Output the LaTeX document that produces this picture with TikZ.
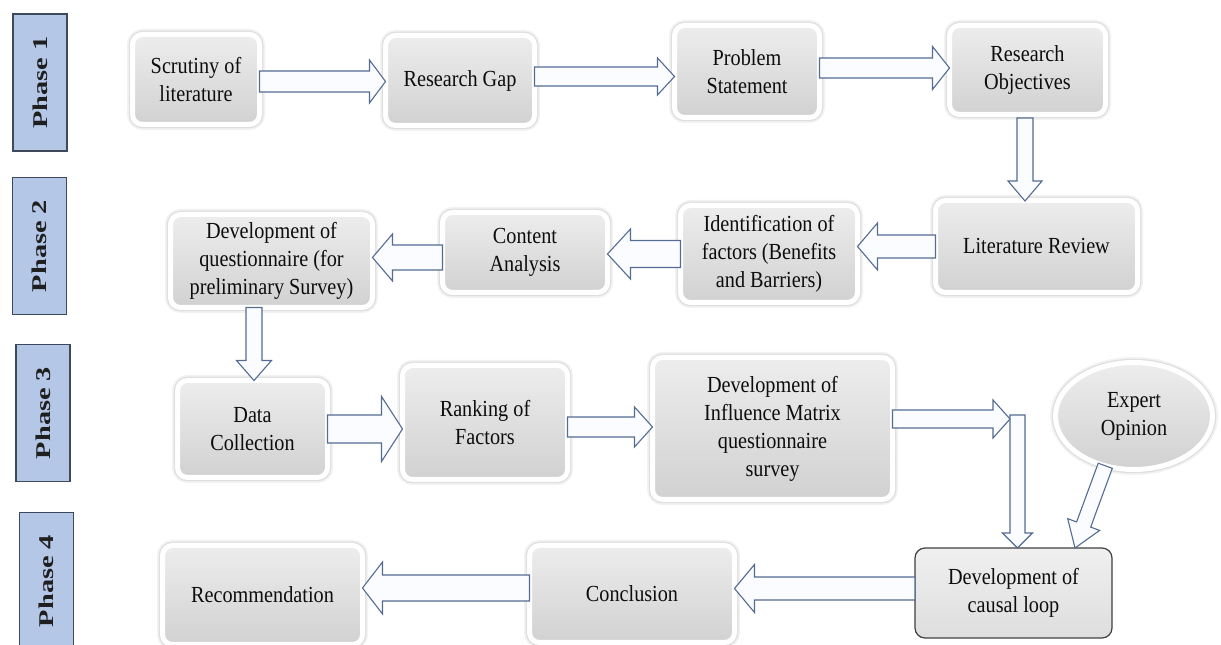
\documentclass[tikz,border=0pt]{standalone}
\usepackage{fontspec}
\setmainfont{Liberation Serif}[FakeStretch=0.88]
\newfontfamily\phasefont{Liberation Serif}[FakeStretch=1.35]
\usetikzlibrary{calc,shapes.geometric}
\definecolor{phasefill}{RGB}{180,199,231}
\definecolor{phaseline}{RGB}{62,74,92}
\definecolor{arrline}{RGB}{84,108,146}
\definecolor{arrfill}{RGB}{251,252,255}
\tikzset{
  glow/.style={draw=white, line width=5pt,
    preaction={draw=black!5, line width=11pt},
    preaction={draw=black!13, line width=7.5pt},
    top color=black!7, middle color=black!11, bottom color=black!18,
    outer sep=0pt, inner sep=2pt, align=center,
    font=\fontsize{23}{28}\selectfont, text=black!95},
  stepbox/.style={glow, rectangle, rounded corners=10pt},
  opinion/.style={glow, ellipse, minimum width=157pt, minimum height=107pt},
  loopbox/.style={rectangle, rounded corners=10pt, draw=black!75, line width=1.2pt,
    top color=black!6, bottom color=black!13, minimum width=197pt, minimum height=90pt,
    outer sep=0pt, inner sep=2pt, align=center,
    font=\fontsize{23}{28}\selectfont, text=black!95},
  phase/.style={rectangle, rotate=90, minimum width=137pt, minimum height=54pt,
    fill=phasefill, draw=phaseline, line width=1.2pt, text=black!88,
    font=\phasefont\bfseries\fontsize{21}{24}\selectfont},
  blockarr/.style={draw=arrline, fill=arrfill, line width=1.1pt, line join=miter}
}
% #1 start, #2 tip, #3 shaft half width, #4 head half width, #5 head length
\newcommand\blockarrow[5]{%
  \coordinate (bahead) at ($(#2)!#5!(#1)$);
  \draw[blockarr] ($(#1)!#3!90:(#2)$) -- ($(bahead)!#3!90:(#2)$) -- ($(bahead)!#4!90:(#2)$)
    -- (#2) -- ($(bahead)!#4!-90:(#2)$) -- ($(bahead)!#3!-90:(#2)$) -- ($(#1)!#3!-90:(#2)$) -- cycle;}
\begin{document}
\begin{tikzpicture}[x=1pt,y=1pt]
\useasboundingbox (0,0) rectangle (1221,645);
\clip (0,0) rectangle (1221,645);
\fill[white] (0,0) rectangle (1221,645);

% phase labels
\node[phase] (ph1) at (40,562.5) {Phase 1};
\node[phase] (ph2) at (39.5,399) {Phase 2};
\node[phase] (ph3) at (43,232) {Phase 3};
\node[phase] (ph4) at (46.5,64) {Phase 4};

% steps
\node[stepbox, minimum width=127pt, minimum height=90pt] (scrut) at (196,565.5) {Scrutiny of\\literature};
\node[stepbox, minimum width=149pt, minimum height=90pt] (gap) at (460,564.5) {Research Gap};
\node[stepbox, minimum width=145pt, minimum height=92pt] (prob) at (747,573.5) {Problem\\Statement};
\node[stepbox, minimum width=156pt, minimum height=89pt] (obj) at (1027.5,575) {Research\\Objectives};
\node[stepbox, minimum width=202pt, minimum height=92pt] (litrev) at (1036.5,398.5) {Literature Review};
\node[stepbox, minimum width=177pt, minimum height=97pt] (ident) at (769,391) {Identification of\\factors (Benefits\\and Barriers)};
\node[stepbox, minimum width=165pt, minimum height=80pt] (content) at (525,392.5) {Content\\Analysis};
\node[stepbox, minimum width=202pt, minimum height=93pt] (devq) at (271.5,384) {Development of\\questionnaire (for\\preliminary Survey)};
\node[stepbox, minimum width=150pt, minimum height=97pt] (data) at (252.5,216) {Data\\Collection};
\node[stepbox, minimum width=165pt, minimum height=114pt] (rank) at (485,222.5) {Ranking of\\Factors};
\node[stepbox, minimum width=240pt, minimum height=142pt] (infl) at (772.5,216.5) {Development of\\Influence Matrix\\questionnaire\\survey};
\node[opinion] (expert) at (1134,229) {Expert\\Opinion};
\node[loopbox] (causal) at (1013.5,52) {Development of\\causal loop};
\node[stepbox, minimum width=205pt, minimum height=97pt] (concl) at (632,51) {Conclusion};
\node[stepbox, minimum width=200pt, minimum height=99pt] (recom) at (262.5,50) {Recommendation};

% connector end points
\coordinate (a1s) at ($(scrut.east)+(0,-2)$);
\coordinate (a1e) at ($(gap.west)+(0,-1)$);
\coordinate (a2s) at ($(gap.east)+(0,4)$);
\coordinate (a2e) at ($(prob.west)+(0,-5)$);
\coordinate (a3s) at ($(prob.east)+(0,3.5)$);
\coordinate (a3e) at ($(obj.west)+(0,2)$);
\coordinate (a4s) at ($(obj.south)+(-2.5,-3.5)$);
\coordinate (a4e) at ($(litrev.north)+(-11.5,-0.5)$);
\coordinate (a5e) at ($(ident.east)+(0,7.5)$);
\coordinate (a6e) at ($(content.east)+(0,-1.5)$);
\coordinate (a7s) at ($(content.west)+(0,-5)$);
\coordinate (a7e) at ($(devq.east)+(0,3.5)$);
\coordinate (a8s) at ($(devq.south)+(-17.5,0)$);
\coordinate (a8e) at ($(data.north)+(1.5,0)$);
\coordinate (a9e) at ($(rank.west)+(0,-6.5)$);
\coordinate (a10s) at ($(rank.east)+(0,-4.5)$);
\coordinate (a10e) at ($(infl.west)+(0,1.5)$);
\coordinate (a11s) at ($(infl.east)+(0,9.5)$);
\coordinate (bend) at (1010,226);
\coordinate (bendtop) at (1017.5,230);
\coordinate (a12e) at ($(causal.north)+(4,0)$);
\coordinate (a13e) at ($(causal.north)+(61.5,0)$);
\coordinate (a14s) at ($(causal.west)+(0,4.5)$);
\coordinate (a14e) at ($(concl.east)+(0,5.5)$);
\coordinate (a15s) at ($(concl.west)+(0,6)$);
\coordinate (a15e) at ($(recom.east)+(0,7)$);

% connectors
\blockarrow{a1s}{a1e}{10.5pt}{21.5pt}{16pt}
\blockarrow{a2s}{a2e}{9.5pt}{18.5pt}{17pt}
\blockarrow{a3s}{a3e}{10pt}{21.5pt}{17pt}
\blockarrow{a4s}{a4e}{8pt}{17pt}{20pt}
\blockarrow{litrev.west}{a5e}{11.5pt}{23.5pt}{20pt}
\blockarrow{ident.west}{a6e}{13.5pt}{25pt}{23pt}
\blockarrow{a7s}{a7e}{12.5pt}{23.5pt}{20pt}
\blockarrow{a8s}{a8e}{8pt}{17.5pt}{20pt}
\blockarrow{data.east}{a9e}{14pt}{32.5pt}{21pt}
\blockarrow{a10s}{a10e}{10pt}{20pt}{18pt}
\blockarrow{a11s}{bend}{9pt}{19pt}{17pt}
\blockarrow{bendtop}{a12e}{7.5pt}{15pt}{15pt}
\blockarrow{expert.240}{a13e}{7.5pt}{17pt}{25pt}
\blockarrow{a14s}{a14e}{11.5pt}{24pt}{20pt}
\blockarrow{a15s}{a15e}{13pt}{26pt}{20pt}
\end{tikzpicture}
\end{document}
